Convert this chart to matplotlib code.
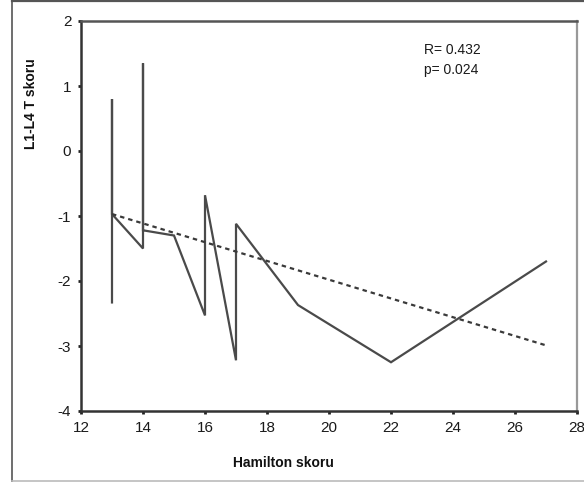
import matplotlib
matplotlib.use("Agg")
import matplotlib.pyplot as plt
from matplotlib.lines import Line2D

plt.rcParams['font.family'] = ['Liberation Sans', 'DejaVu Sans']
plt.rcParams['axes.unicode_minus'] = False

# Data
hamilton = [13, 13, 13, 14, 14, 14, 15, 16, 16, 17, 17, 19, 22, 27]
t_score = [-2.33, 0.80, -0.97, -1.50, 1.35, -1.22, -1.30, -2.53, -0.68,
           -3.22, -1.12, -2.37, -3.25, -1.70]
fit_x = [13, 27]
fit_y = [-0.97, -2.99]
x_ticks = [12, 14, 16, 18, 20, 22, 24, 26, 28]
y_ticks = [-4, -3, -2, -1, 0, 1, 2]

W, H = 584, 482
fig = plt.figure(figsize=(W / 100, H / 100), dpi=100)
ax = fig.add_axes([81 / W, 1 - 411 / H, (577 - 81) / W, (411 - 21) / H])

ax.plot(hamilton, t_score, color='#4a4a4a', lw=1.6, solid_joinstyle='miter')
ax.plot(fit_x, fit_y, color='#3a3a3a', lw=1.6, ls=(0, (2.0, 1.8)))

ax.set_xlim(12, 28)
ax.set_ylim(-4, 2)
ax.set_xticks(x_ticks)
ax.set_yticks(y_ticks)
ax.tick_params(axis='both', length=2, width=2, color='#222222',
               labelsize=11, pad=5, labelcolor='#1a1a1a')

for side in ['left', 'bottom']:
    ax.spines[side].set_color('#333333')
    ax.spines[side].set_linewidth(1.8)
ax.spines['top'].set_color('#555555')
ax.spines['top'].set_linewidth(1.8)
ax.spines['right'].set_color('#999999')
ax.spines['right'].set_linewidth(1.6)

ax.text((424 - 81) / (577 - 81), 1 - (50 - 21) / (411 - 21),
        'R= 0.432', transform=ax.transAxes, fontsize=10, color='#1a1a1a',
        va='center', ha='left')
ax.text((424 - 81) / (577 - 81), 1 - (70 - 21) / (411 - 21),
        'p= 0.024', transform=ax.transAxes, fontsize=10, color='#1a1a1a',
        va='center', ha='left')

fig.text(31 / W, 1 - 104 / H, 'L1-L4 T skoru', rotation=90, fontsize=10,
         fontweight='bold', ha='center', va='center', color='#111111')
fig.text(283 / W, 1 - 463 / H, 'Hamilton skoru', fontsize=10,
         fontweight='bold', ha='center', va='center', color='#111111')

# outer frame of the figure
fig.add_artist(Line2D([12 / W, 12 / W], [0, 1], color='#555555', lw=1.2,
                      transform=fig.transFigure))
fig.add_artist(Line2D([12 / W, 1], [1 - 1 / H, 1 - 1 / H], color='#555555',
                      lw=1.6, transform=fig.transFigure))
fig.add_artist(Line2D([12 / W, 1], [1 / H, 1 / H], color='#bbbbbb',
                      lw=1.2, transform=fig.transFigure))

fig.savefig('out.png', dpi=100)
